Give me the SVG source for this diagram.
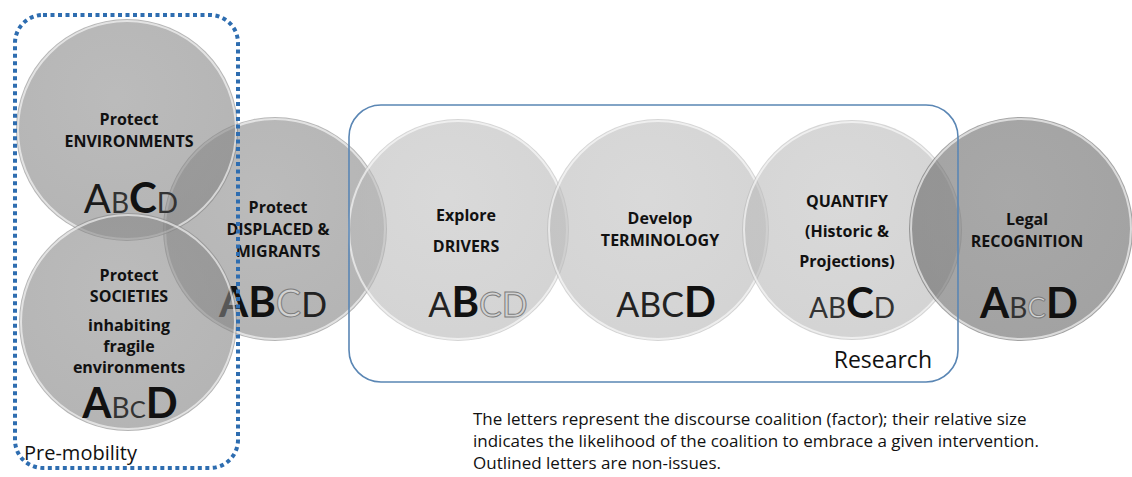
<svg xmlns="http://www.w3.org/2000/svg" width="1132" height="477" viewBox="0 0 1132 477">
  <style>
    .lbl { font-family: "Open Sans", Lato, "Liberation Sans", sans-serif; font-weight: 700; font-size: 16px; fill: #111; text-anchor: middle; }
    .abcd { font-family: Lato, "Open Sans", "Liberation Sans", sans-serif; text-anchor: middle; }
    .big { font-size: 42px; font-weight: 700; fill: #111; }
    .bigr { font-size: 40px; font-weight: 400; fill: #1a1a1a; }
    .med { font-size: 34px; font-weight: 400; fill: #222; }
    .sml { font-size: 28px; font-weight: 400; fill: #333; }
    .xs { font-size: 24px; font-weight: 400; fill: #333; }
    .out { font-weight: 400; fill: #d2d2d2; stroke: #7d7d7d; stroke-width: 1; }
    .note { font-family: "Open Sans", Lato, "Liberation Sans", sans-serif; font-size: 17px; fill: #111; }
    .tag { font-family: "Open Sans", Lato, "Liberation Sans", sans-serif; fill: #111; }
    .rim { fill: none; stroke: #fff; stroke-opacity: 0.6; stroke-width: 2; }
  </style>
  <defs>
    <radialGradient id="gMid" cx="0.45" cy="0.35" r="0.7">
      <stop offset="0" stop-color="#8e8e8e"/>
      <stop offset="1" stop-color="#828282"/>
    </radialGradient>
    <radialGradient id="gLight" cx="0.45" cy="0.35" r="0.7">
      <stop offset="0" stop-color="#c0c0c0"/>
      <stop offset="1" stop-color="#b6b6b6"/>
    </radialGradient>
    <radialGradient id="gDark" cx="0.45" cy="0.35" r="0.7">
      <stop offset="0" stop-color="#6e6e6e"/>
      <stop offset="1" stop-color="#646464"/>
    </radialGradient>
  </defs>

  <!-- Displaced & migrants -->
  <g id="n-displaced">
    <circle cx="275" cy="229" r="112" fill="url(#gMid)" fill-opacity="0.6"/>
    <circle cx="275" cy="229" r="110" class="rim"/>
    <text class="lbl"><tspan x="278" y="213">Protect</tspan><tspan x="278" y="235">DISPLACED &amp;</tspan><tspan x="278" y="257">MIGRANTS</tspan></text>
    <text class="abcd" x="273" y="317"><tspan class="big">A</tspan><tspan class="big">B</tspan><tspan class="out" font-size="38">C</tspan><tspan class="med" font-size="38">D</tspan></text>
  </g>

  <!-- Environments -->
  <g id="n-environments">
    <circle cx="127" cy="130" r="111" fill="url(#gMid)" fill-opacity="0.6"/>
    <circle cx="127" cy="130" r="109" class="rim"/>
    <text class="lbl"><tspan x="129" y="125">Protect</tspan><tspan x="129" y="147">ENVIRONMENTS</tspan></text>
    <text class="abcd" x="131" y="213"><tspan class="bigr">A</tspan><tspan class="sml">B</tspan><tspan class="big">C</tspan><tspan class="sml">D</tspan></text>
  </g>

  <!-- Societies -->
  <g id="n-societies">
    <circle cx="128" cy="322" r="109" fill="url(#gMid)" fill-opacity="0.6"/>
    <circle cx="128" cy="322" r="107" class="rim"/>
    <text class="lbl"><tspan x="129" y="281">Protect</tspan><tspan x="129" y="302">SOCIETIES</tspan><tspan x="129" y="331">inhabiting</tspan><tspan x="129" y="352">fragile</tspan><tspan x="129" y="373">environments</tspan></text>
    <text class="abcd" x="130" y="418"><tspan class="big" font-size="44">A</tspan><tspan class="sml">B</tspan><tspan class="xs">C</tspan><tspan class="big" font-size="38">D</tspan></text>
  </g>

  <!-- Explore drivers -->
  <g id="n-drivers">
    <circle cx="458" cy="230" r="111" fill="url(#gLight)" fill-opacity="0.6"/>
    <circle cx="458" cy="230" r="109" class="rim"/>
    <text class="lbl"><tspan x="466" y="221">Explore</tspan><tspan x="466" y="252">DRIVERS</tspan></text>
    <text class="abcd" x="478" y="317"><tspan class="med">A</tspan><tspan class="big">B</tspan><tspan class="out" font-size="34">C</tspan><tspan class="out" font-size="34">D</tspan></text>
  </g>

  <!-- Develop terminology -->
  <g id="n-terminology">
    <circle cx="658" cy="230" r="111" fill="url(#gLight)" fill-opacity="0.6"/>
    <circle cx="658" cy="230" r="109" class="rim"/>
    <text class="lbl"><tspan x="660" y="224">Develop</tspan><tspan x="660" y="246">TERMINOLOGY</tspan></text>
    <text class="abcd" x="666" y="317"><tspan class="med" font-size="32" font-weight="600">A</tspan><tspan class="med" font-size="32" font-weight="600">B</tspan><tspan class="med" font-size="32" font-weight="600">C</tspan><tspan class="big">D</tspan></text>
  </g>

  <!-- Quantify -->
  <g id="n-quantify">
    <circle cx="852" cy="230" r="110" fill="url(#gLight)" fill-opacity="0.6"/>
    <circle cx="852" cy="230" r="108" class="rim"/>
    <text class="lbl"><tspan x="847" y="207">QUANTIFY</tspan><tspan x="847" y="237">(Historic &amp;</tspan><tspan x="847" y="267">Projections)</tspan></text>
    <text class="abcd" x="852" y="318"><tspan class="sml" font-size="30">A</tspan><tspan class="sml" font-size="30">B</tspan><tspan class="big">C</tspan><tspan class="sml" font-size="30">D</tspan></text>
  </g>

  <!-- Legal recognition -->
  <g id="n-legal">
    <circle cx="1021" cy="229" r="112" fill="url(#gDark)" fill-opacity="0.6"/>
    <circle cx="1021" cy="229" r="110" class="rim"/>
    <text class="lbl"><tspan x="1027" y="225">Legal</tspan><tspan x="1027" y="247">RECOGNITION</tspan></text>
    <text class="abcd" x="1029" y="318"><tspan class="big">A</tspan><tspan class="sml">B</tspan><tspan class="out" font-size="28">C</tspan><tspan class="big" font-size="38">D</tspan></text>
  </g>

  <!-- Group frames -->
  <g id="connectors">
    <rect id="research-frame" x="349" y="105" width="609" height="277" rx="32" ry="32" fill="none" stroke="#5a86b4" stroke-width="1.6"/>
    <rect id="premobility-frame" x="15" y="15" width="223" height="453" rx="28" ry="28" fill="none" stroke="#2e6db0" stroke-width="4" stroke-dasharray="4 3.5"/>
  </g>

  <g id="n-research-label">
    <text class="tag" x="932" y="368" font-size="23" text-anchor="end">Research</text>
  </g>
  <g id="n-premobility-label">
    <text class="tag" x="24" y="460" font-size="20">Pre-mobility</text>
  </g>

  <g id="n-legend">
    <text class="note"><tspan x="473" y="425">The letters represent the discourse coalition (factor); their relative size</tspan><tspan x="473" y="447">indicates the likelihood of the coalition to embrace a given intervention.</tspan><tspan x="473" y="469">Outlined letters are non-issues.</tspan></text>
  </g>
</svg>
